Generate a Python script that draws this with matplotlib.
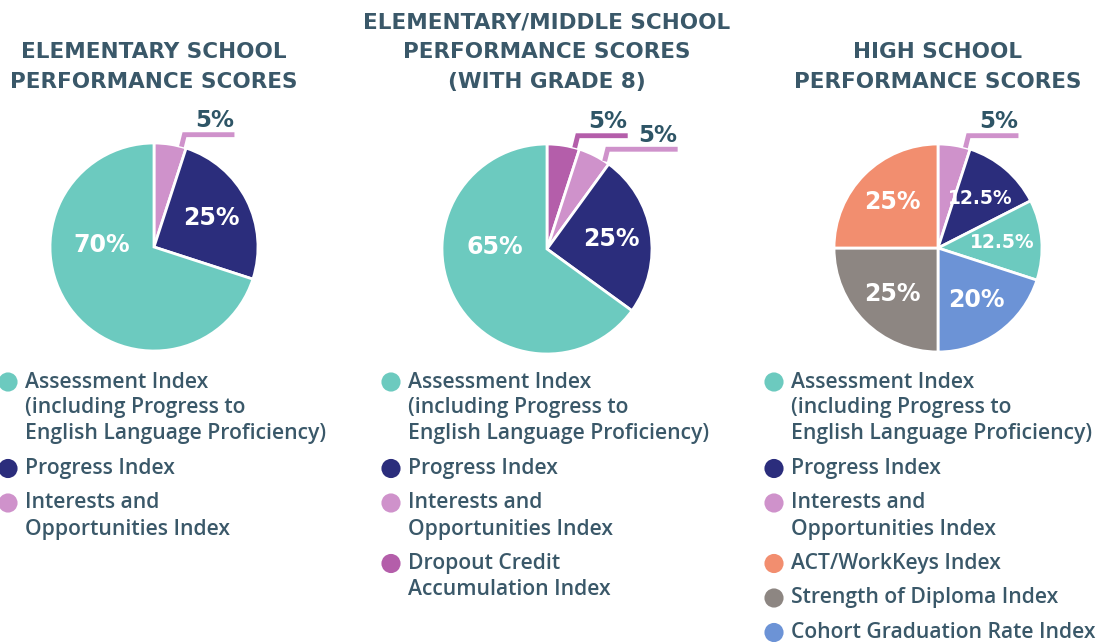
import numpy as np
import matplotlib.pyplot as plt

W, H = 1112, 642

teal = "#6ccabf"
navy = "#2b2d7c"
pink = "#cf92cb"
magenta = "#b45eaa"
salmon = "#f28e6f"
gray = "#8d8682"
blue = "#6c93d6"
txt = "#3a5869"

assess = "Assessment Index\n(including Progress to\nEnglish Language Proficiency)"
progress = "Progress Index"
interests = "Interests and\nOpportunities Index"

# elementary
elem_labels = [assess, progress, interests]
elem_values = [70, 25, 5]
elem_colors = [teal, navy, pink]
elem_order = [2, 1, 0]          # clockwise from 12 o'clock

# elementary / middle
mid_labels = [assess, progress, interests, "Dropout Credit\nAccumulation Index"]
mid_values = [65, 25, 5, 5]
mid_colors = [teal, navy, pink, magenta]
mid_order = [3, 2, 1, 0]

# high school
hs_labels = [assess, progress, interests, "ACT/WorkKeys Index",
             "Strength of Diploma Index", "Cohort Graduation Rate Index"]
hs_values = [12.5, 12.5, 5, 25, 25, 20]
hs_colors = [teal, navy, pink, salmon, gray, blue]
hs_order = [2, 1, 0, 5, 4, 3]

titles = ["ELEMENTARY SCHOOL\nPERFORMANCE SCORES",
          "ELEMENTARY/MIDDLE SCHOOL\nPERFORMANCE SCORES\n(WITH GRADE 8)",
          "HIGH SCHOOL\nPERFORMANCE SCORES"]

fig = plt.figure(figsize=(11.12, 6.42), dpi=100)
ax = fig.add_axes([0, 0, 1, 1])


def Y(y):
    return H - y


def fmt(v):
    return ("%g" % v) + "%"


def draw_pie(cx, cy, r, labels, values, colors, order, title, title_top, leg_x):
    vals = [values[i] for i in order]
    cols = [colors[i] for i in order]
    ax.pie(vals, colors=cols, center=(cx, Y(cy)), radius=r, startangle=90,
           counterclock=False, frame=True,
           wedgeprops=dict(edgecolor="white", linewidth=2))
    # percentage labels
    start = 0.0
    k = 0
    for v, c in zip(vals, cols):
        a0 = start * 3.6
        a1 = (start + v) * 3.6
        start += v
        if v <= 5:
            ang = np.radians(a0 + 0.85 * (a1 - a0))
            sx = cx + r * np.sin(ang)
            sy = cy - r * np.cos(ang)
            ex, ey = sx + 3, sy - 12
            run = 50 + 20 * k
            ax.plot([sx, ex, ex + run], [Y(sy), Y(ey), Y(ey)], color=c,
                    lw=3.5, solid_capstyle="butt", solid_joinstyle="miter")
            ax.text(ex + run - 20, Y(ey - 14), fmt(v), color="#2e5566",
                    fontsize=16.5, fontweight="bold", ha="center", va="center")
            k += 1
            continue
        if v > 50:
            ang = np.radians(272)
            d = 0.5
        else:
            ang = np.radians((a0 + a1) / 2)
            d = 0.62
        size = 13.5 if v % 1 else 17
        ax.text(cx + d * r * np.sin(ang), Y(cy - d * r * np.cos(ang)), fmt(v),
                color="white", fontsize=size, fontweight="bold",
                ha="center", va="center")
    # title
    for j, line in enumerate(title.split("\n")):
        ax.text(cx, Y(title_top + 30 * j), line, color=txt, fontsize=15.5,
                fontweight="bold", ha="center", va="center")
    # legend
    y = 382
    for lab, c in zip(labels, colors):
        ax.scatter([leg_x], [Y(y)], s=190, color=c, edgecolors="none")
        for line in lab.split("\n"):
            ax.text(leg_x + 17, Y(y), line, color=txt, fontsize=15.2,
                    family=["Open Sans", "DejaVu Sans"], fontweight="semibold",
                    ha="left", va="center")
            y += 26
        y += 8.5


draw_pie(154, 247, 104, elem_labels, elem_values, elem_colors, elem_order,
         titles[0], 52, 8)
draw_pie(547, 249, 105, mid_labels, mid_values, mid_colors, mid_order,
         titles[1], 22, 391)
draw_pie(938, 248, 104, hs_labels, hs_values, hs_colors, hs_order,
         titles[2], 52, 774)

ax.set_xlim(0, W)
ax.set_ylim(0, H)
ax.set_aspect("equal")
ax.axis("off")
fig.savefig("out.png", dpi=100)
